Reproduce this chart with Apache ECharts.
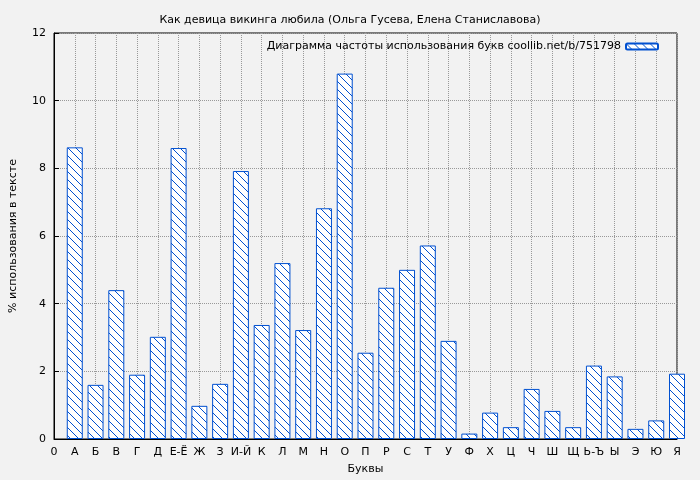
<!DOCTYPE html>
<html><head><meta charset="utf-8">
<script src="https://cdn.jsdelivr.net/npm/echarts@6/dist/echarts.min.js"></script>
<style>body{margin:0;background:#f2f2f2}#c{width:700px;height:480px}</style>
</head><body><div id="c"></div>
<script>
const categories=['0','А','Б','В','Г','Д','Е-Ё','Ж','З','И-Й','К','Л','М','Н','О','П','Р','С','Т','У','Ф','Х','Ц','Ч','Ш','Щ','Ь-Ъ','Ы','Э','Ю','Я'];
const values=[null,8.62,1.6,4.4,1.9,3.02,8.6,0.98,1.63,7.92,3.37,5.2,3.22,6.82,10.8,2.55,4.47,5.0,5.72,2.9,0.16,0.78,0.35,1.48,0.83,0.35,2.17,1.85,0.3,0.55,1.93];
const yTicks=[0,2,4,6,8,10,12];
const cv=document.createElement('canvas');cv.width=8;cv.height=8;
const g=cv.getContext('2d');g.fillStyle='#fff';g.fillRect(0,0,8,8);
g.strokeStyle='#0050d0';g.lineWidth=1;
g.beginPath();g.moveTo(0,0);g.lineTo(8,8);g.moveTo(-4,4);g.lineTo(4,12);g.moveTo(4,-4);g.lineTo(12,4);g.stroke();
const pat={image:cv,repeat:'repeat'};
const data=values.map((v,i)=>v==null?null:[i,v]).filter(d=>d);
const ch=echarts.init(document.getElementById('c'));
ch.setOption({
backgroundColor:'#f2f2f2',animation:false,
title:{text:'Как девица викинга любила (Ольга Гусева, Елена Станиславова)',left:'center',top:10,textStyle:{fontSize:11,fontWeight:'normal',color:'#000',fontFamily:'DejaVu Sans'}},
legend:{right:36,top:36,align:'right',itemWidth:32,itemHeight:6,textStyle:{fontSize:11,color:'#000',fontFamily:'DejaVu Sans'},data:['Диаграмма частоты использования букв coollib.net/b/751798']},
grid:{left:53,right:23,top:33,bottom:40,show:true,borderColor:'#000',borderWidth:1},
xAxis:{type:'value',min:0,max:30,interval:1,name:'Буквы',nameLocation:'middle',nameGap:25,nameTextStyle:{fontSize:11,fontFamily:'DejaVu Sans',color:'#000'},
axisLabel:{formatter:v=>categories[v]||'',fontSize:11,color:'#000',fontFamily:'DejaVu Sans'},
axisLine:{lineStyle:{color:'#000'}},axisTick:{show:false},
splitLine:{show:true,lineStyle:{color:'#999',type:'dotted'}}},
yAxis:{type:'value',min:0,max:12,interval:2,name:'% использования в тексте',nameLocation:'middle',nameGap:35,nameTextStyle:{fontSize:11,fontFamily:'DejaVu Sans',color:'#000'},
axisLabel:{formatter:v=>yTicks.includes(v)?String(v):'',fontSize:11,color:'#000',fontFamily:'DejaVu Sans'},
axisLine:{show:true,lineStyle:{color:'#000'}},axisTick:{show:true,inside:true,lineStyle:{color:'#000'}},
splitLine:{show:true,lineStyle:{color:'#999',type:'dotted'}}},
series:[{name:'Диаграмма частоты использования букв coollib.net/b/751798',type:'bar',barWidth:16,data:data,clip:true,
itemStyle:{color:pat,borderColor:'#0050d0',borderWidth:1}}]
});
</script></body></html>
